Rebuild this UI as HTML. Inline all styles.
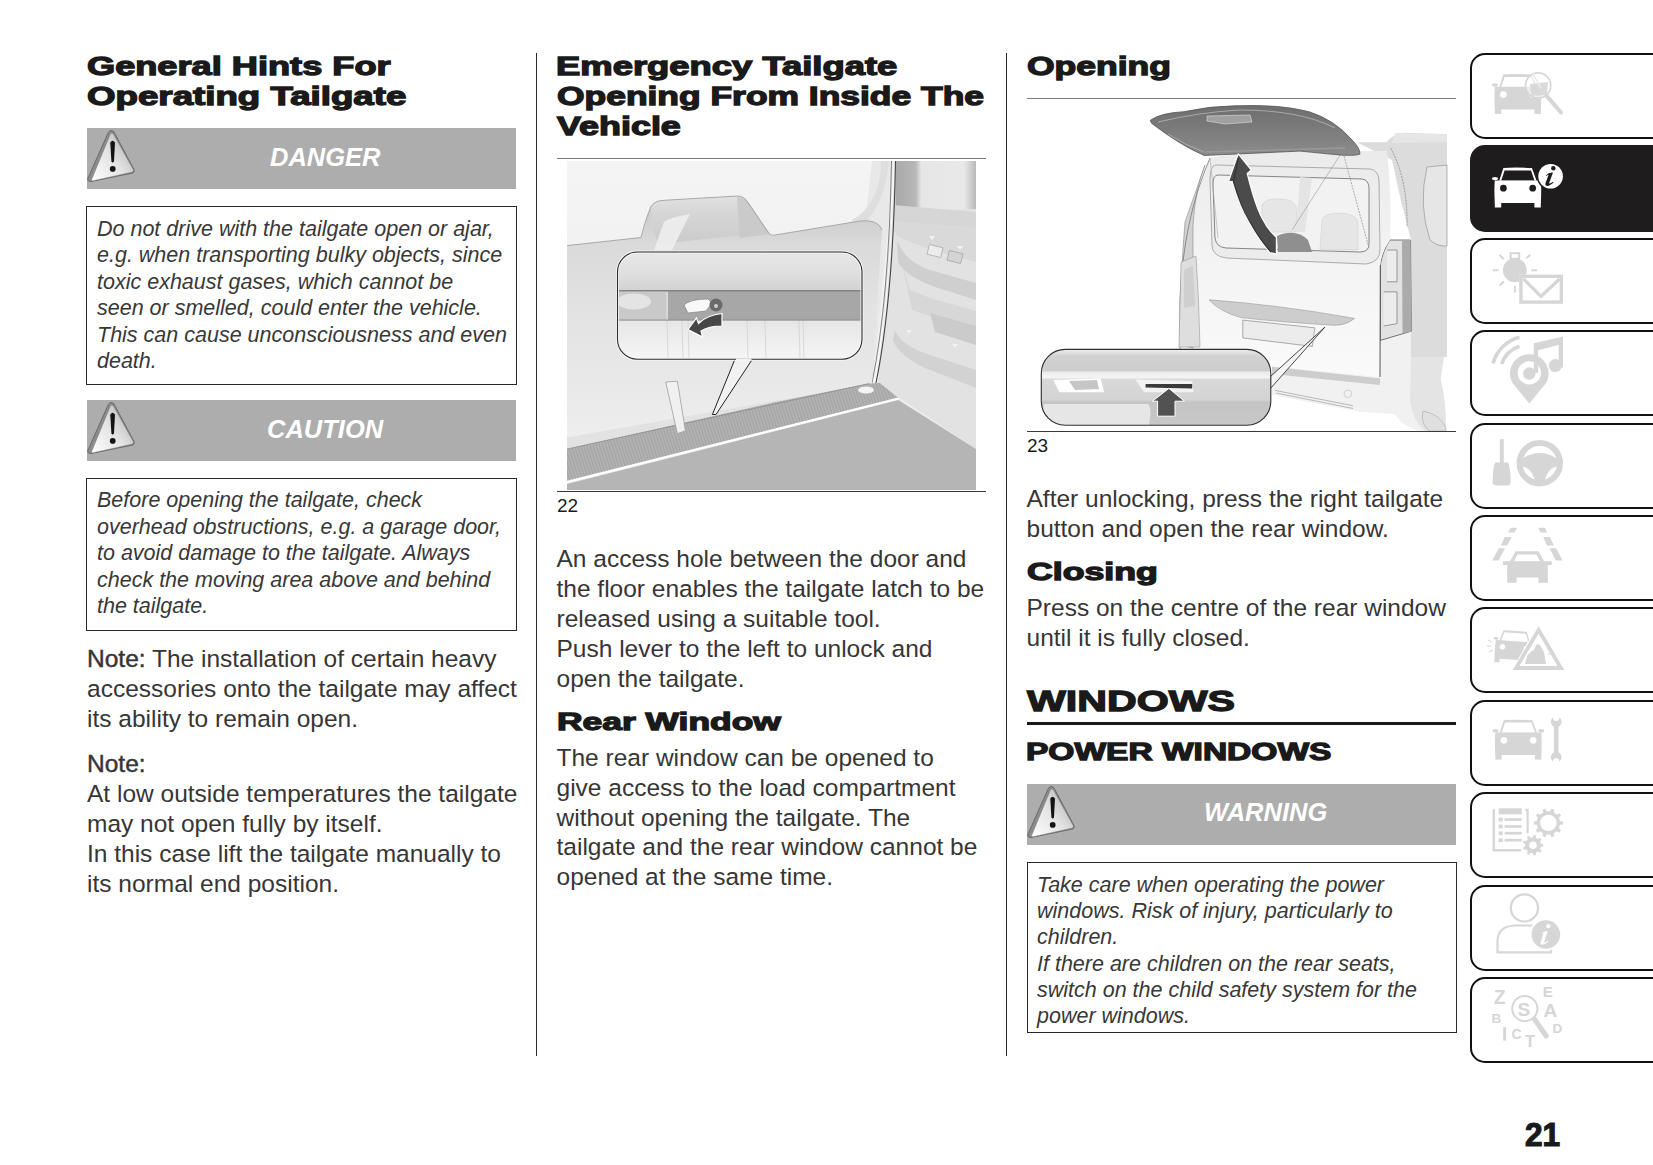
<!DOCTYPE html>
<html><head><meta charset="utf-8"><title>Tailgate</title>
<style>
html,body{margin:0;padding:0;background:#fff;}
body{width:1653px;height:1165px;position:relative;overflow:hidden;font-family:"Liberation Sans", sans-serif;}
.t{position:absolute;white-space:nowrap;}
.r{position:absolute;}
</style></head><body>
<div class="t" style="left:86.5px;top:52.99px;font-size:26px;line-height:26px;font-weight:700;font-style:normal;color:#1a1a1a;transform:scaleX(1.391705069124424);transform-origin:0 0;-webkit-text-stroke:1.3px #1a1a1a;">General Hints For</div>
<div class="t" style="left:86.5px;top:82.99px;font-size:26px;line-height:26px;font-weight:700;font-style:normal;color:#1a1a1a;transform:scaleX(1.4111111111111112);transform-origin:0 0;-webkit-text-stroke:1.3px #1a1a1a;">Operating Tailgate</div>
<div class="r" style="left:87px;top:128px;width:429px;height:61px;background:#adadad;"></div>
<svg class="r" style="left:87px;top:128px" width="60" height="61" viewBox="0 0 60 61">
<defs><linearGradient id="tg128" x1="0" y1="1" x2="1" y2="0.2"><stop offset="0" stop-color="#ffffff"/><stop offset="0.55" stop-color="#e2e2e2"/><stop offset="1" stop-color="#b4b4b4"/></linearGradient></defs>
<path d="M0.8 50.5 L21.5 4 Q24 0.8 26.8 3.6 L46.8 41.2 Q48.2 44.3 45 45.2 L5.5 53.2 Q0 54.3 0.8 50.5 Z" fill="#8c8c8c" stroke="#555" stroke-width="0.7"/>
<path d="M4.6 51.6 L23.2 6.4 Q24.8 3.8 26.6 6.2 L46.2 41.6 Q47 43.6 44.6 44.3 L7.2 52.6 Q4.2 53.3 4.6 51.6 Z" fill="url(#tg128)" stroke="#777" stroke-width="0.5"/>
<path d="M23.3 14.5 Q25.6 11.2 28 14.5 L27 33.6 Q25.7 35.6 24.4 33.6 Z" fill="#141414"/>
<ellipse cx="25.7" cy="40.9" rx="2.9" ry="2.8" fill="#141414"/>
</svg>
<div class="t" style="left:270px;top:145.41px;font-size:25.5px;line-height:25.5px;font-weight:700;font-style:italic;color:#ffffff;">DANGER</div>
<div class="r" style="left:86px;top:206px;width:431px;height:179px;border:1.6px solid #2a2a2a;box-sizing:border-box;"></div>
<div class="t" style="left:97px;top:218.60px;font-size:21.5px;line-height:21.5px;font-weight:400;font-style:italic;color:#383838;">Do not drive with the tailgate open or ajar,</div>
<div class="t" style="left:97px;top:245.10px;font-size:21.5px;line-height:21.5px;font-weight:400;font-style:italic;color:#383838;">e.g. when transporting bulky objects, since</div>
<div class="t" style="left:97px;top:271.60px;font-size:21.5px;line-height:21.5px;font-weight:400;font-style:italic;color:#383838;">toxic exhaust gases, which cannot be</div>
<div class="t" style="left:97px;top:298.10px;font-size:21.5px;line-height:21.5px;font-weight:400;font-style:italic;color:#383838;">seen or smelled, could enter the vehicle.</div>
<div class="t" style="left:97px;top:324.60px;font-size:21.5px;line-height:21.5px;font-weight:400;font-style:italic;color:#383838;">This can cause unconsciousness and even</div>
<div class="t" style="left:97px;top:351.10px;font-size:21.5px;line-height:21.5px;font-weight:400;font-style:italic;color:#383838;">death.</div>
<div class="r" style="left:87px;top:400px;width:429px;height:61px;background:#adadad;"></div>
<svg class="r" style="left:87px;top:400px" width="60" height="61" viewBox="0 0 60 61">
<defs><linearGradient id="tg400" x1="0" y1="1" x2="1" y2="0.2"><stop offset="0" stop-color="#ffffff"/><stop offset="0.55" stop-color="#e2e2e2"/><stop offset="1" stop-color="#b4b4b4"/></linearGradient></defs>
<path d="M0.8 50.5 L21.5 4 Q24 0.8 26.8 3.6 L46.8 41.2 Q48.2 44.3 45 45.2 L5.5 53.2 Q0 54.3 0.8 50.5 Z" fill="#8c8c8c" stroke="#555" stroke-width="0.7"/>
<path d="M4.6 51.6 L23.2 6.4 Q24.8 3.8 26.6 6.2 L46.2 41.6 Q47 43.6 44.6 44.3 L7.2 52.6 Q4.2 53.3 4.6 51.6 Z" fill="url(#tg400)" stroke="#777" stroke-width="0.5"/>
<path d="M23.3 14.5 Q25.6 11.2 28 14.5 L27 33.6 Q25.7 35.6 24.4 33.6 Z" fill="#141414"/>
<ellipse cx="25.7" cy="40.9" rx="2.9" ry="2.8" fill="#141414"/>
</svg>
<div class="t" style="left:267px;top:417.41px;font-size:25.5px;line-height:25.5px;font-weight:700;font-style:italic;color:#ffffff;">CAUTION</div>
<div class="r" style="left:86px;top:478px;width:431px;height:152.5px;border:1.6px solid #2a2a2a;box-sizing:border-box;"></div>
<div class="t" style="left:97px;top:490.00px;font-size:21.5px;line-height:21.5px;font-weight:400;font-style:italic;color:#383838;">Before opening the tailgate, check</div>
<div class="t" style="left:97px;top:516.60px;font-size:21.5px;line-height:21.5px;font-weight:400;font-style:italic;color:#383838;">overhead obstructions, e.g. a garage door,</div>
<div class="t" style="left:97px;top:543.20px;font-size:21.5px;line-height:21.5px;font-weight:400;font-style:italic;color:#383838;">to avoid damage to the tailgate. Always</div>
<div class="t" style="left:97px;top:569.80px;font-size:21.5px;line-height:21.5px;font-weight:400;font-style:italic;color:#383838;">check the moving area above and behind</div>
<div class="t" style="left:97px;top:596.40px;font-size:21.5px;line-height:21.5px;font-weight:400;font-style:italic;color:#383838;">the tailgate.</div>
<div class="t" style="left:87px;top:647.26px;font-size:24.5px;line-height:24.5px;font-weight:400;font-style:normal;color:#363636;"><span style="-webkit-text-stroke:0.45px #363636">Note:</span> The installation of certain heavy</div>
<div class="t" style="left:87px;top:677.26px;font-size:24.5px;line-height:24.5px;font-weight:400;font-style:normal;color:#363636;">accessories onto the tailgate may affect</div>
<div class="t" style="left:87px;top:707.26px;font-size:24.5px;line-height:24.5px;font-weight:400;font-style:normal;color:#363636;">its ability to remain open.</div>
<div class="t" style="left:87px;top:751.76px;font-size:24.5px;line-height:24.5px;font-weight:400;font-style:normal;color:#363636;"><span style="-webkit-text-stroke:0.45px #363636">Note:</span></div>
<div class="t" style="left:87px;top:781.86px;font-size:24.5px;line-height:24.5px;font-weight:400;font-style:normal;color:#363636;">At low outside temperatures the tailgate</div>
<div class="t" style="left:87px;top:811.96px;font-size:24.5px;line-height:24.5px;font-weight:400;font-style:normal;color:#363636;">may not open fully by itself.</div>
<div class="t" style="left:87px;top:842.06px;font-size:24.5px;line-height:24.5px;font-weight:400;font-style:normal;color:#363636;">In this case lift the tailgate manually to</div>
<div class="t" style="left:87px;top:872.16px;font-size:24.5px;line-height:24.5px;font-weight:400;font-style:normal;color:#363636;">its normal end position.</div>
<div class="r" style="left:535.5px;top:53px;width:1.6px;height:1003px;background:#2a2a2a;"></div>
<div class="r" style="left:1005.8px;top:53px;width:1.6px;height:1003px;background:#2a2a2a;"></div>
<div class="t" style="left:556px;top:52.99px;font-size:26px;line-height:26px;font-weight:700;font-style:normal;color:#1a1a1a;transform:scaleX(1.400414937759336);transform-origin:0 0;-webkit-text-stroke:1.3px #1a1a1a;">Emergency Tailgate</div>
<div class="t" style="left:556.5px;top:82.99px;font-size:26px;line-height:26px;font-weight:700;font-style:normal;color:#1a1a1a;transform:scaleX(1.3621794871794872);transform-origin:0 0;-webkit-text-stroke:1.3px #1a1a1a;">Opening From Inside The</div>
<div class="t" style="left:556.5px;top:112.99px;font-size:26px;line-height:26px;font-weight:700;font-style:normal;color:#1a1a1a;transform:scaleX(1.3820224719101124);transform-origin:0 0;-webkit-text-stroke:1.3px #1a1a1a;">Vehicle</div>
<div class="r" style="left:557px;top:157.5px;width:429px;height:1.5px;background:#7a7a7a;"></div>
<svg class="r" style="left:567px;top:161px" width="409" height="329" viewBox="567 161 409 329">
<defs>
<linearGradient id="g22bg" x1="0" y1="0" x2="0" y2="1"><stop offset="0" stop-color="#f4f4f4"/><stop offset="1" stop-color="#ececec"/></linearGradient>
<linearGradient id="g22panel" x1="0" y1="0" x2="0" y2="1"><stop offset="0" stop-color="#c6c6c6"/><stop offset="0.08" stop-color="#cdcdcd"/><stop offset="0.2" stop-color="#dadada"/><stop offset="0.45" stop-color="#e2e2e2"/><stop offset="0.75" stop-color="#e8e8e8"/><stop offset="1" stop-color="#eeeeee"/></linearGradient>
<linearGradient id="g22bump" x1="0" y1="0" x2="0" y2="1"><stop offset="0" stop-color="#e2e2e2"/><stop offset="0.35" stop-color="#d6d6d6"/><stop offset="1" stop-color="#cbcbcb"/></linearGradient>
<linearGradient id="g22door" x1="0" y1="0" x2="1" y2="0"><stop offset="0" stop-color="#a9a9a9"/><stop offset="0.25" stop-color="#b8b8b8"/><stop offset="0.32" stop-color="#e6e6e6"/><stop offset="0.85" stop-color="#e9e9e9"/><stop offset="1" stop-color="#b9b9b9"/></linearGradient>
<linearGradient id="g22cb" x1="0" y1="0" x2="0" y2="1"><stop offset="0" stop-color="#e8e8e8"/><stop offset="0.6" stop-color="#dedede"/><stop offset="1" stop-color="#d2d2d2"/></linearGradient>
<linearGradient id="g22cl" x1="0" y1="0" x2="0" y2="1"><stop offset="0" stop-color="#e6e6e6"/><stop offset="1" stop-color="#f6f6f6"/></linearGradient>
<pattern id="hatch22" width="3" height="3" patternUnits="userSpaceOnUse" patternTransform="rotate(-18)"><rect width="3" height="3" fill="#b2b2b2"/><rect width="0.9" height="3" fill="#a2a2a2"/></pattern>
<clipPath id="cc22"><rect x="617.5" y="252" width="244.5" height="107.3" rx="20" ry="20"/></clipPath>
</defs>
<rect x="567" y="161" width="409" height="329" fill="url(#g22bg)"/>
<!-- window frame curve (pillar) -->
<path d="M872 161 L895 161 L888 230 L878 330 L872 383 L850 383 L862 260 Q866 210 872 161 Z" fill="#e8e8e8"/>
<path d="M881 161 Q880 205 852 220 L852 232 Q884 215 889 161 Z" fill="#dedede"/>
<!-- right door interior -->
<path d="M895.5 161 L976 161 L976 449 L878 383.4 L885 290 Z" fill="#e2e2e2"/>
<rect x="895.5" y="161" width="80.5" height="48" fill="url(#g22door)"/>
<path d="M893 205 L976 212 L976 228 L893 222 Z" fill="#d6d6d6"/>
<path d="M893 222 L976 228 L976 262 Q930 250 905 240 Q896 236 893 230 Z" fill="#d9d9d9"/>
<path d="M897 240 Q905 262 930 270 L976 283 L976 300 L935 287 Q905 276 898 262 Z" fill="#cfcfcf"/>
<path d="M903 268 L910 290 L930 298 L976 311 L976 332 L912 310 Z" fill="#d7d7d7"/>
<path d="M895 330 Q900 345 930 355 L976 370 L976 388 L925 368 Q898 355 893 340 Z" fill="#d2d2d2"/>
<path d="M930 313 L976 326 L976 345 L935 332 Z" fill="#cbcbcb"/>
<rect x="928" y="246" width="14" height="10" fill="#ececec" stroke="#b0b0b0" stroke-width="0.8" transform="rotate(14 935 251)"/>
<rect x="948" y="252" width="14" height="10" fill="#d4d4d4" stroke="#aaa" stroke-width="0.8" transform="rotate(14 955 257)"/>
<path d="M929 236 l3 4 l3 -4 z M957 246 l3 4 l3 -4 z M906 330 l3 4 l3 -4 z M952 344 l3 4 l3 -4 z" fill="#f4f4f4"/>
<!-- pillar dark lines -->
<path d="M895.5 161 Q893 300 876 383" fill="none" stroke="#444" stroke-width="1.1"/>
<path d="M891.5 161 Q889 300 872 383" fill="none" stroke="#666" stroke-width="0.8"/><path d="M893.5 161 Q891 300 874 383" fill="none" stroke="#fff" stroke-width="0.8"/>
<!-- left panel -->
<path d="M567 245.6 L640.9 237.5 Q646 218 651.1 206.2 Q655 200.5 664.2 200.3 L737.2 196 Q744 196 747.4 201.8 L768 232 Q770 236 775 235 L860 221 Q878 219 882 230 L872 383.4 L567 437.4 Z" fill="url(#g22panel)"/>
<path d="M651.1 206.2 Q655 200.5 664.2 200.3 L737.2 196 Q744 196 747.4 201.8 L768 232 L660 244 Q650 232 651.1 206.2 Z" fill="url(#g22bump)"/>
<path d="M737 197 Q745 197 749 203 L770 234 L740 238 Q738 215 737 197 Z" fill="#c9c9c9" opacity="0.9"/><path d="M664 222 Q668 218 690 214 L672 250 L654 250 Z" fill="#f0f0f0" opacity="0.85"/>
<path d="M567 245.6 L640.9 237.5 Q646 218 651.1 206.2 Q655 200.5 664.2 200.3 L737.2 196 Q744 196 747.4 201.8 L768 232 Q770 236 775 235 L860 221 Q878 219 882 230" fill="none" stroke="#9a9a9a" stroke-width="0.8"/>
<!-- trim strip above sill -->
<path d="M567 437.4 L872 383.4 L897 383.4 L567 449 Z" fill="#e2e2e2"/>
<!-- sill -->
<path d="M567 449 L775 402.3 L869.2 383.4 L880 383 L898.4 398 L567 481.9 Z" fill="url(#hatch22)"/>
<path d="M567 481.9 L898.4 398.5" stroke="#ffffff" stroke-width="2.2"/>
<path d="M567 449 L869 383.6" stroke="#8a8a8a" stroke-width="0.7"/>
<!-- floor -->
<path d="M567 484 L898.4 400 L976 449 L976 490 L567 490 Z" fill="#b5b5b5"/>
<ellipse cx="866" cy="390" rx="8" ry="3.5" fill="#f4f4f4"/>
<!-- lever -->
<path d="M665.7 382 L677.4 381.2 L685.4 430.8 L677.4 433.7 Z" fill="#f0f0f0" stroke="#a0a0a0" stroke-width="0.8"/>
<!-- callout pointer -->
<path d="M735 359 L712.4 414.5 L716 414.5 L752.5 359 Z" fill="#f2f2f2" stroke="#222" stroke-width="1"/>
<!-- callout -->
<g clip-path="url(#cc22)">
<rect x="617.5" y="252" width="244.5" height="39" fill="url(#g22cb)"/>
<rect x="617.5" y="290.8" width="244.5" height="29.5" fill="#a7a7a7"/>
<rect x="617.5" y="290.8" width="50.5" height="29.5" fill="#c9c9c9"/>
<ellipse cx="634" cy="301.5" rx="17" ry="8" fill="#e4e4e4"/>
<rect x="666" y="292" width="2" height="28" fill="#d8d8d8"/>
<rect x="617.5" y="320" width="244.5" height="40" fill="url(#g22cl)"/>
<path d="M667 320 L668 360 M682 320 L683 360 M688 320 L689 360 M747 320 L748 360 M765 320 L766 360 M799 320 L800 360 M803 320 L804 360" stroke="#d2d2d2" stroke-width="0.8"/>
<rect x="617.5" y="290.3" width="244.5" height="1" fill="#666"/>
<rect x="617.5" y="319.6" width="244.5" height="1" fill="#8a8a8a"/>
<!-- latch -->
<path d="M684 305 Q690 299 708 299 L712 303 L706 311 L688 313 Z" fill="#f8f8f8" stroke="#777" stroke-width="0.6"/>
<circle cx="716" cy="305" r="6.5" fill="#6a6a6a"/>
<circle cx="716" cy="306" r="2" fill="#cfcfcf"/>
<!-- arrow -->
<path d="M722 313.5 L722 326 Q708 326 701 331 L702.5 337 L688 329.5 L696.5 318 L698.5 323.5 Q707 315 722 313.5 Z" fill="#474747" stroke="#ffffff" stroke-width="1.2"/>
</g>
<rect x="617.5" y="252" width="244.5" height="107.3" rx="20" ry="20" fill="none" stroke="#f6f6f6" stroke-width="3"/><rect x="617.5" y="252" width="244.5" height="107.3" rx="20" ry="20" fill="none" stroke="#2b2b2b" stroke-width="1.1"/>
<path d="M736 359.3 L751.5 359.3" stroke="#f2f2f2" stroke-width="1.6"/>
</svg>

<div class="r" style="left:557px;top:490.8px;width:429px;height:1.5px;background:#3a3a3a;"></div>
<div class="t" style="left:557px;top:495.52px;font-size:19px;line-height:19px;font-weight:400;font-style:normal;color:#1a1a1a;">22</div>
<div class="t" style="left:556.5px;top:547.36px;font-size:24.5px;line-height:24.5px;font-weight:400;font-style:normal;color:#363636;">An access hole between the door and</div>
<div class="t" style="left:556.5px;top:577.36px;font-size:24.5px;line-height:24.5px;font-weight:400;font-style:normal;color:#363636;">the floor enables the tailgate latch to be</div>
<div class="t" style="left:556.5px;top:607.36px;font-size:24.5px;line-height:24.5px;font-weight:400;font-style:normal;color:#363636;">released using a suitable tool.</div>
<div class="t" style="left:556.5px;top:637.36px;font-size:24.5px;line-height:24.5px;font-weight:400;font-style:normal;color:#363636;">Push lever to the left to unlock and</div>
<div class="t" style="left:556.5px;top:667.36px;font-size:24.5px;line-height:24.5px;font-weight:400;font-style:normal;color:#363636;">open the tailgate.</div>
<div class="t" style="left:556.5px;top:709.76px;font-size:24.5px;line-height:24.5px;font-weight:700;font-style:normal;color:#1a1a1a;transform:scaleX(1.4444444444444444);transform-origin:0 0;-webkit-text-stroke:1.3px #1a1a1a;">Rear Window</div>
<div class="t" style="left:556.5px;top:745.76px;font-size:24.5px;line-height:24.5px;font-weight:400;font-style:normal;color:#363636;">The rear window can be opened to</div>
<div class="t" style="left:556.5px;top:775.66px;font-size:24.5px;line-height:24.5px;font-weight:400;font-style:normal;color:#363636;">give access to the load compartment</div>
<div class="t" style="left:556.5px;top:805.56px;font-size:24.5px;line-height:24.5px;font-weight:400;font-style:normal;color:#363636;">without opening the tailgate. The</div>
<div class="t" style="left:556.5px;top:835.46px;font-size:24.5px;line-height:24.5px;font-weight:400;font-style:normal;color:#363636;">tailgate and the rear window cannot be</div>
<div class="t" style="left:556.5px;top:865.36px;font-size:24.5px;line-height:24.5px;font-weight:400;font-style:normal;color:#363636;">opened at the same time.</div>
<div class="t" style="left:1027px;top:52.99px;font-size:26px;line-height:26px;font-weight:700;font-style:normal;color:#1a1a1a;transform:scaleX(1.3650485436893203);transform-origin:0 0;-webkit-text-stroke:1.3px #1a1a1a;">Opening</div>
<div class="r" style="left:1027px;top:97.6px;width:429px;height:1.5px;background:#7a7a7a;"></div>
<svg class="r" style="left:1030px;top:99px" width="427" height="332" viewBox="1030 99 427 332">
<defs>
<linearGradient id="g23glass" x1="0" y1="0" x2="0" y2="1"><stop offset="0" stop-color="#6e6e6e"/><stop offset="0.5" stop-color="#7c7c7c"/><stop offset="1" stop-color="#8c8c8c"/></linearGradient>
<linearGradient id="g23body" x1="0" y1="0" x2="0" y2="1"><stop offset="0" stop-color="#ebebeb"/><stop offset="0.45" stop-color="#f3f3f3"/><stop offset="1" stop-color="#fafafa"/></linearGradient>
<linearGradient id="g23side" x1="0" y1="0" x2="1" y2="0"><stop offset="0" stop-color="#e2e2e2"/><stop offset="1" stop-color="#d4d4d4"/></linearGradient>
<linearGradient id="g23cb" x1="0" y1="0" x2="0" y2="1"><stop offset="0" stop-color="#efefef"/><stop offset="0.09" stop-color="#d2d2d2"/><stop offset="0.28" stop-color="#cdcdcd"/><stop offset="0.3" stop-color="#ebebeb"/><stop offset="0.37" stop-color="#f4f4f4"/><stop offset="0.4" stop-color="#d8d8d8"/><stop offset="0.66" stop-color="#d4d4d4"/><stop offset="0.7" stop-color="#c4c4c4"/><stop offset="1" stop-color="#c8c8c8"/></linearGradient>
<clipPath id="cc23"><rect x="1041.3" y="349.4" width="229.5" height="75.8" rx="24" ry="24"/></clipPath>
</defs>
<rect x="1030" y="99" width="427" height="332" fill="#ffffff"/>
<!-- right side body (pillar) -->
<path d="M1357 142.3 L1386.4 142.3 Q1394 133 1405 132.8 L1447 134.3 L1447 357 L1411 357 L1411 240 Q1400 200 1392 160 Z" fill="#dcdcdc"/>
<path d="M1395 133 L1447 134.3 L1447 142 L1392 143 Z" fill="#e6e6e6"/>
<path d="M1427 167 Q1418 205 1430 240 Q1438 247 1447 246 L1447 165 Z" fill="#e6e6e6" stroke="#888" stroke-width="0.6"/>
<path d="M1390.7 148.2 Q1408 180 1407 227" fill="none" stroke="#888" stroke-width="0.8" stroke-dasharray="2 1"/>
<!-- lower right corner -->
<path d="M1380 340 L1411 331 L1411 357 L1444 357 L1440.6 379 Q1446 400 1446 431 L1420 431 Q1400 425 1395 414 L1361 412 L1272 395 L1272 366 L1380 377 Z" fill="#f1f1f1"/>
<path d="M1411 357 L1444 357 L1440.6 379 Q1446 400 1446 431 L1425 431 Q1412 420 1410 400 Z" fill="#e4e4e4"/>
<path d="M1272 366.7 L1380 378.6 L1380 385 L1272 374 Z" fill="#cdcdcd"/>
<path d="M1275 390.4 L1353 405.7 M1276 393 L1353 408.5" stroke="#a8a8a8" stroke-width="0.8"/>
<circle cx="1347.8" cy="393.8" r="3.8" fill="none" stroke="#bbb" stroke-width="0.6"/>
<path d="M1423 411 Q1440 414 1446 428 L1446 431 L1430 431 Q1420 425 1423 411 Z" fill="#e0e0e0" stroke="#aaa" stroke-width="0.6"/>
<!-- tail light housing -->
<path d="M1390 240 L1410.5 240 L1411.3 331.2 L1380.3 340.4 L1380.3 265 Q1383 250 1390 240 Z" fill="#e2e2e2" stroke="#555" stroke-width="0.8"/>
<path d="M1402 240 L1410.5 240 L1411.3 331.2 L1402.5 333.5 Z" fill="#ababab"/>
<path d="M1387 250 L1397 250 L1397 281.8 L1387 281.8" fill="#ececec" stroke="#777" stroke-width="0.7"/>
<path d="M1383.7 291.9 L1397 291.9 L1397 323.7 L1383.7 326" fill="#ececec" stroke="#777" stroke-width="0.7"/>
<!-- tailgate body -->
<path d="M1210 158 Q1236 152 1300 151 L1387 151 Q1392 200 1390 240 Q1381 252 1380.3 265 L1380 377 L1272 366 L1193.7 352 L1180 356 L1180 300 Q1183 220 1210 158 Z" fill="url(#g23body)"/>
<path d="M1185 222 Q1180 280 1180 345 L1193 348 L1193 225 Q1195 190 1205 165 Z" fill="#d2d2d2" stroke="#888" stroke-width="0.6"/>
<path d="M1210 158 Q1183 220 1180 300 L1180 356" fill="none" stroke="#777" stroke-width="0.8"/>
<path d="M1380.3 265 L1380 377" stroke="#444" stroke-width="0.9"/>
<!-- rear window frame -->
<path d="M1216 165 L1370 169 Q1378 170 1379 180 L1380 250 Q1380 262 1366 264 L1226 258 Q1212 256 1212 245 L1210 180 Q1210 165 1216 165 Z" fill="#ececec" stroke="#9a9a9a" stroke-width="0.8"/>
<path d="M1218 175 L1362 179 Q1369 180 1369 188 L1369 244 Q1369 252 1360 252 L1226 248 Q1216 247 1215 238 L1213 184 Q1213 175 1218 175 Z" fill="#f2f2f2" stroke="#6a6a6a" stroke-width="0.8"/>
<!-- interior seats -->
<path d="M1262 205 Q1265 198 1282 199 Q1296 200 1297 210 L1296 232 L1262 232 Z" fill="#e6e6e6" stroke="#d2d2d2" stroke-width="0.6"/>
<path d="M1322 220 Q1324 213 1340 213 Q1356 214 1358 222 L1358 250 L1320 250 Z" fill="#e6e6e6" stroke="#d2d2d2" stroke-width="0.6"/>
<path d="M1300 177 L1312 178 L1305 232 L1296 232 Z" fill="#e4e4e4"/>
<path d="M1277 236 Q1296 228 1308 240 L1312 252 L1278 252 Z" fill="#8f8f8f"/>
<path d="M1292 230 L1342 152" stroke="#999" stroke-width="0.6"/>
<path d="M1344 156 L1369 248" stroke="#999" stroke-width="0.8" stroke-dasharray="2 1"/>
<path d="M1210 158 L1218 238" stroke="#aaa" stroke-width="0.6"/>
<!-- handle recess -->
<path d="M1209 299.8 Q1280 305 1354.6 318.4 Q1345 326 1332.6 325.2 Q1280 322 1241 317.6 Q1220 312 1209 299.8 Z" fill="#cdcdcd" stroke="#999" stroke-width="0.6"/>
<!-- license plate -->
<path d="M1242.8 320.1 L1314.8 327.8 L1312.3 346.4 L1242.8 337.9 Z" fill="#ececec" stroke="#8a8a8a" stroke-width="0.7"/>
<!-- glass (open window) -->
<path d="M1150.2 120.4 Q1160 113 1183.8 111.7 Q1210 106 1234.9 105.8 Q1280 104 1309 111.7 Q1335 120 1352 140 Q1360 148 1360 154 Q1356 156 1340 155 L1300 151.1 L1204.2 155.5 Q1180 145 1151.7 123.4 Z" fill="url(#g23glass)" stroke="#555" stroke-width="0.8"/>
<path d="M1158 122 Q1200 112 1240 110 Q1300 110 1335 128" fill="none" stroke="#b8b8b8" stroke-width="0.8"/>
<path d="M1168 134 Q1185 145 1204 152" fill="none" stroke="#aaa" stroke-width="1"/>
<path d="M1207 116 L1250 115 L1252 122 L1225 124 L1207 121 Z" fill="#a0a0a0" stroke="#ddd" stroke-width="0.6"/>
<path d="M1205 152 L1345 148" stroke="#9a9a9a" stroke-width="1.4"/>
<!-- arrow -->
<path d="M1238.2 153.9 L1251.4 170 L1247.2 173.4 Q1255 205 1262 218 Q1268 230 1276.4 237.4 L1276.4 254.1 L1270.2 252.7 Q1255 235 1248 219.3 Q1238 200 1232.6 181.7 L1228.4 181.7 Z" fill="#4b4b4b" stroke="#ffffff" stroke-width="1.2" stroke-linejoin="round"/>
<path d="M1238.5 158 L1233.5 181.5 Q1240 205 1250 222 Q1260 240 1271 252" fill="none" stroke="#333" stroke-width="1.2"/>
<!-- callout pointer -->
<path d="M1270 377 L1325 327 L1270 389 Z" fill="#f4f4f4" stroke="#333" stroke-width="0.9"/>
<!-- callout -->
<g clip-path="url(#cc23)">
<rect x="1041.3" y="349.4" width="232" height="75.8" fill="url(#g23cb)"/>
<path d="M1043.5 404 L1148.6 404 Q1152 410 1149 425.2 L1043.5 425.2 Z" fill="#e6e6e6"/>
<path d="M1053.3 380.1 L1100.6 378.6 L1104.3 392.2 L1059.3 392.2 Z" fill="#ffffff"/>
<path d="M1069 381 L1097 380 L1099 389 L1075 390 Z" fill="#c6c6c6"/>
<path d="M1135.1 379.4 L1192.2 380.9 L1193.7 392.2 L1144.1 392.2 Z" fill="#f2f2f2"/>
<path d="M1145.6 383.9 L1192.2 383.9 L1192.2 388.4 L1145.6 387.4 Z" fill="#3a3a3a"/>
<path d="M1168.9 388.4 L1184.5 401.2 L1175 401.2 L1175 416.2 L1157.6 416.2 L1157.6 401.2 L1152.4 401.2 Z" fill="#525252" stroke="#ffffff" stroke-width="1"/>
</g>
<rect x="1041.3" y="349.4" width="229.5" height="75.8" rx="24" ry="24" fill="none" stroke="#2e2e2e" stroke-width="1.1"/>
<!-- left body side strip above callout -->
<path d="M1181 262 L1196 256 Q1199 300 1200 347 L1179 347 Z" fill="#dedede" stroke="#888" stroke-width="0.5"/><path d="M1184 270 L1193 266 L1195 306 L1184 308 Z" fill="#cfcfcf"/>
</svg>

<div class="r" style="left:1027px;top:430.8px;width:429px;height:1.5px;background:#3a3a3a;"></div>
<div class="t" style="left:1027px;top:435.52px;font-size:19px;line-height:19px;font-weight:400;font-style:normal;color:#1a1a1a;">23</div>
<div class="t" style="left:1026.5px;top:487.06px;font-size:24.5px;line-height:24.5px;font-weight:400;font-style:normal;color:#363636;">After unlocking, press the right tailgate</div>
<div class="t" style="left:1026.5px;top:517.06px;font-size:24.5px;line-height:24.5px;font-weight:400;font-style:normal;color:#363636;">button and open the rear window.</div>
<div class="t" style="left:1026.8px;top:560.28px;font-size:24px;line-height:24px;font-weight:700;font-style:normal;color:#1a1a1a;transform:scaleX(1.4853801169590644);transform-origin:0 0;-webkit-text-stroke:1.3px #1a1a1a;">Closing</div>
<div class="t" style="left:1026.5px;top:596.06px;font-size:24.5px;line-height:24.5px;font-weight:400;font-style:normal;color:#363636;">Press on the centre of the rear window</div>
<div class="t" style="left:1026.5px;top:626.06px;font-size:24.5px;line-height:24.5px;font-weight:400;font-style:normal;color:#363636;">until it is fully closed.</div>
<div class="t" style="left:1027px;top:686.40px;font-size:30px;line-height:30px;font-weight:700;font-style:normal;color:#1a1a1a;transform:scaleX(1.3708609271523178);transform-origin:0 0;-webkit-text-stroke:1.3px #1a1a1a;">WINDOWS</div>
<div class="r" style="left:1027px;top:721.5px;width:429px;height:3px;background:#1a1a1a;"></div>
<div class="t" style="left:1025.8px;top:739.96px;font-size:24.5px;line-height:24.5px;font-weight:700;font-style:normal;color:#1a1a1a;transform:scaleX(1.3681818181818182);transform-origin:0 0;-webkit-text-stroke:1.3px #1a1a1a;">POWER WINDOWS</div>
<div class="r" style="left:1027px;top:783.7px;width:429px;height:61px;background:#adadad;"></div>
<svg class="r" style="left:1027px;top:783.7px" width="60" height="61" viewBox="0 0 60 61">
<defs><linearGradient id="tg783" x1="0" y1="1" x2="1" y2="0.2"><stop offset="0" stop-color="#ffffff"/><stop offset="0.55" stop-color="#e2e2e2"/><stop offset="1" stop-color="#b4b4b4"/></linearGradient></defs>
<path d="M0.8 50.5 L21.5 4 Q24 0.8 26.8 3.6 L46.8 41.2 Q48.2 44.3 45 45.2 L5.5 53.2 Q0 54.3 0.8 50.5 Z" fill="#8c8c8c" stroke="#555" stroke-width="0.7"/>
<path d="M4.6 51.6 L23.2 6.4 Q24.8 3.8 26.6 6.2 L46.2 41.6 Q47 43.6 44.6 44.3 L7.2 52.6 Q4.2 53.3 4.6 51.6 Z" fill="url(#tg783)" stroke="#777" stroke-width="0.5"/>
<path d="M23.3 14.5 Q25.6 11.2 28 14.5 L27 33.6 Q25.7 35.6 24.4 33.6 Z" fill="#141414"/>
<ellipse cx="25.7" cy="40.9" rx="2.9" ry="2.8" fill="#141414"/>
</svg>
<div class="t" style="left:1204px;top:800.41px;font-size:25.5px;line-height:25.5px;font-weight:700;font-style:italic;color:#ffffff;">WARNING</div>
<div class="r" style="left:1026.5px;top:861.5px;width:430px;height:171px;border:1.6px solid #2a2a2a;box-sizing:border-box;"></div>
<div class="t" style="left:1037px;top:874.70px;font-size:21.5px;line-height:21.5px;font-weight:400;font-style:italic;color:#383838;">Take care when operating the power</div>
<div class="t" style="left:1037px;top:901.05px;font-size:21.5px;line-height:21.5px;font-weight:400;font-style:italic;color:#383838;">windows. Risk of injury, particularly to</div>
<div class="t" style="left:1037px;top:927.40px;font-size:21.5px;line-height:21.5px;font-weight:400;font-style:italic;color:#383838;">children.</div>
<div class="t" style="left:1037px;top:953.75px;font-size:21.5px;line-height:21.5px;font-weight:400;font-style:italic;color:#383838;">If there are children on the rear seats,</div>
<div class="t" style="left:1037px;top:980.10px;font-size:21.5px;line-height:21.5px;font-weight:400;font-style:italic;color:#383838;">switch on the child safety system for the</div>
<div class="t" style="left:1037px;top:1006.45px;font-size:21.5px;line-height:21.5px;font-weight:400;font-style:italic;color:#383838;">power windows.</div>
<!--TABS-->
<div class="r" style="left:1469.5px;top:53.0px;width:220px;height:86.2px;border:2.7px solid #111;border-radius:15px;box-sizing:border-box;background:#fff;"></div>
<div class="r" style="left:1469.5px;top:145.4px;width:220px;height:86.2px;background:#1e1c1d;border-radius:15px;"></div>
<div class="r" style="left:1469.5px;top:237.8px;width:220px;height:86.2px;border:2.7px solid #111;border-radius:15px;box-sizing:border-box;background:#fff;"></div>
<div class="r" style="left:1469.5px;top:330.2px;width:220px;height:86.2px;border:2.7px solid #111;border-radius:15px;box-sizing:border-box;background:#fff;"></div>
<div class="r" style="left:1469.5px;top:422.6px;width:220px;height:86.2px;border:2.7px solid #111;border-radius:15px;box-sizing:border-box;background:#fff;"></div>
<div class="r" style="left:1469.5px;top:515.0px;width:220px;height:86.2px;border:2.7px solid #111;border-radius:15px;box-sizing:border-box;background:#fff;"></div>
<div class="r" style="left:1469.5px;top:607.3px;width:220px;height:86.2px;border:2.7px solid #111;border-radius:15px;box-sizing:border-box;background:#fff;"></div>
<div class="r" style="left:1469.5px;top:699.7px;width:220px;height:86.2px;border:2.7px solid #111;border-radius:15px;box-sizing:border-box;background:#fff;"></div>
<div class="r" style="left:1469.5px;top:792.1px;width:220px;height:86.2px;border:2.7px solid #111;border-radius:15px;box-sizing:border-box;background:#fff;"></div>
<div class="r" style="left:1469.5px;top:884.5px;width:220px;height:86.2px;border:2.7px solid #111;border-radius:15px;box-sizing:border-box;background:#fff;"></div>
<div class="r" style="left:1469.5px;top:976.9px;width:220px;height:86.2px;border:2.7px solid #111;border-radius:15px;box-sizing:border-box;background:#fff;"></div>
<svg class="r" style="left:1470px;top:40px" width="183" height="1030" viewBox="1470 40 183 1030">
<g transform="translate(1492 74.3) scale(1.0)">
<path d="M11.4 0 Q25.5 -0.7 39.9 0.2 L44.6 12.8 L7.2 12.8 Z" fill="#d6d6d6"/>
<path d="M12.6 2.6 L39 2.6 L42.6 12.8 L9.2 12.8 Z" fill="#ffffff"/>
<path d="M2.8 12.5 L48.8 12.5 Q49.6 22 48.8 35.1 L2.8 35.1 Q2 22 2.8 12.5 Z" fill="#d6d6d6"/>
<rect x="2.8" y="34" width="6.4" height="5.6" fill="#d6d6d6"/>
<rect x="42.4" y="34" width="6.4" height="5.6" fill="#d6d6d6"/>
<ellipse cx="3" cy="10.7" rx="3" ry="1.7" fill="#d6d6d6"/>
<ellipse cx="48.8" cy="10.7" rx="3" ry="1.7" fill="#d6d6d6"/>
<circle cx="11.4" cy="20.3" r="3.35" fill="#ffffff"/>
<circle cx="40.7" cy="20.3" r="3.35" fill="#ffffff"/>
</g>
<circle cx="1538.1" cy="85.5" r="12.6" fill="#ffffff" fill-opacity="0.55" stroke="#d6d6d6" stroke-width="1.6"/>
<path d="M1530 84 L1548 82 L1547 95 L1531 96 Z" fill="#d6d6d6" opacity="0.9"/>
<path d="M1533 74 L1541 88" stroke="#ffffff" stroke-width="1.6"/><path d="M1533 74 L1541 88" stroke="#d6d6d6" stroke-width="0.8"/>
<path d="M1547.2 96.5 L1561 112.5" stroke="#d6d6d6" stroke-width="4.2" stroke-linecap="round"/>
<g transform="translate(1492 167.9) scale(1.0)">
<path d="M11.4 0 Q25.5 -0.7 39.9 0.2 L44.6 12.8 L7.2 12.8 Z" fill="#ffffff"/>
<path d="M12.6 2.6 L39 2.6 L42.6 12.8 L9.2 12.8 Z" fill="#1e1c1d"/>
<path d="M2.8 12.5 L48.8 12.5 Q49.6 22 48.8 35.1 L2.8 35.1 Q2 22 2.8 12.5 Z" fill="#ffffff"/>
<rect x="2.8" y="34" width="6.4" height="5.6" fill="#ffffff"/>
<rect x="42.4" y="34" width="6.4" height="5.6" fill="#ffffff"/>
<ellipse cx="3" cy="10.7" rx="3" ry="1.7" fill="#ffffff"/>
<ellipse cx="48.8" cy="10.7" rx="3" ry="1.7" fill="#ffffff"/>
<circle cx="11.4" cy="20.3" r="3.35" fill="#1e1c1d"/>
<circle cx="40.7" cy="20.3" r="3.35" fill="#1e1c1d"/>
</g>
<circle cx="1550.6" cy="176.2" r="13.8" fill="#1e1c1d"/>
<circle cx="1550.6" cy="176.2" r="12.3" fill="#ffffff"/>
<circle cx="1553.3" cy="168.2" r="2.2" fill="#1e1c1d"/>
<path d="M1545.8 175.5 Q1548.8 172 1553 172.5 L1549.2 183 Q1549.2 184.6 1553.2 181.8 L1553.6 182.6 Q1548.2 187.4 1545.8 185.6 Q1545 184.6 1545.6 182.8 L1548.6 174.8 Q1547.2 175 1546.3 176 Z" fill="#1e1c1d"/>
<circle cx="1514.9" cy="270.3" r="12" fill="#d6d6d6"/>
<rect x="1510.6" y="253.2" width="8.6" height="5.6" fill="none" stroke="#d6d6d6" stroke-width="2"/>
<g stroke="#d6d6d6" stroke-width="2"><path d="M1492.6 270.3 L1498.6 270.3"/><path d="M1531.3 270.3 L1537.3 270.3"/><path d="M1499.5 254.9 L1503.8 259.2"/><path d="M1526.1 258.3 L1530.4 254.9"/><path d="M1499.5 285.8 L1503.8 281.5"/><path d="M1514.9 285.8 L1514.9 292.7"/></g>
<rect x="1519.2" y="274.6" width="43.8" height="29.2" fill="#ffffff"/>
<rect x="1520.9" y="276.3" width="40.4" height="25.8" fill="none" stroke="#d6d6d6" stroke-width="3.4"/>
<path d="M1523.5 278.9 L1541 296.5 L1559.6 278.9" fill="none" stroke="#d6d6d6" stroke-width="3.4"/>
<path d="M1529.3 403.4 L1512.5 383 A19.3 19.3 0 1 1 1546.1 383 Z" fill="#d6d6d6"/>
<circle cx="1529.3" cy="372.9" r="11.6" fill="#ffffff"/>
<circle cx="1529.3" cy="373.5" r="6.2" fill="#d6d6d6"/>
<path d="M1533.8 343.3 L1563 336.5 L1563 367.4 L1558.7 367.4 L1558.7 345 L1538.1 350.3 L1538.1 373 L1533.8 373 Z" fill="#d6d6d6"/>
<circle cx="1555.3" cy="365.6" r="6.5" fill="#d6d6d6"/>
<path d="M1493 363.5 A37 37 0 0 1 1519.5 337.2" fill="none" stroke="#d6d6d6" stroke-width="3.6"/>
<path d="M1501.6 364 A28.5 28.5 0 0 1 1519.5 346.2" fill="none" stroke="#d6d6d6" stroke-width="3.6"/>
<rect x="1499.8" y="439.2" width="4" height="24.5" fill="#d6d6d6"/>
<path d="M1495 462.4 L1508.3 462.4 Q1510.7 470 1510.7 482 Q1510.7 485.5 1507 485.5 L1496.3 485.5 Q1492.6 485.5 1492.6 482 Q1492.6 470 1495 462.4 Z" fill="#d6d6d6"/>
<circle cx="1539.8" cy="463.2" r="20.2" fill="none" stroke="#d6d6d6" stroke-width="6"/>
<path d="M1519 461 Q1539.8 445 1560.6 461 L1560.6 466 Q1547 466 1544 484 L1535.6 484 Q1532.6 466 1519 466 Z" fill="#d6d6d6"/>
<polygon points="1510.8,527.8 1517.2,527.8 1514.4,532.6 1508.1,532.6" fill="#d6d6d6"/>
<polygon points="1504.8,537.1 1511.7,537.1 1507.2,545.5 1500.9,545.5" fill="#d6d6d6"/>
<polygon points="1498.8,548.2 1505.1,548.2 1498.5,560.6 1492.2,560.6" fill="#d6d6d6"/>
<polygon points="1538.2,527.8 1544.8,527.8 1547.2,532.6 1540.6,532.6" fill="#d6d6d6"/>
<polygon points="1543.3,537.1 1549.9,537.1 1553.8,545.5 1546.9,545.5" fill="#d6d6d6"/>
<polygon points="1549.6,548.2 1556.2,548.2 1562.5,560.6 1555.9,560.6" fill="#d6d6d6"/>
<path d="M1515.6 551.2 L1538.5 551.2 L1544.2 561.5 L1540.3 561.5 L1536.5 554.5 L1517.6 554.5 L1513.8 561.5 L1510 561.5 Z" fill="#d6d6d6"/>
<rect x="1503" y="561.2" width="48.7" height="3.8" fill="#d6d6d6"/>
<rect x="1507.2" y="564.8" width="40.6" height="12.8" fill="#d6d6d6"/>
<rect x="1507.2" y="577" width="9.4" height="5.8" fill="#d6d6d6"/><rect x="1538.4" y="577" width="9.4" height="5.8" fill="#d6d6d6"/>
<g transform="rotate(4 1515 648)"><g transform="translate(1493 631) scale(0.82)">
<path d="M11.4 0 Q25.5 -0.7 39.9 0.2 L44.6 12.8 L7.2 12.8 Z" fill="#d6d6d6"/>
<path d="M12.6 2.6 L39 2.6 L42.6 12.8 L9.2 12.8 Z" fill="#ffffff"/>
<path d="M2.8 12.5 L48.8 12.5 Q49.6 22 48.8 35.1 L2.8 35.1 Q2 22 2.8 12.5 Z" fill="#d6d6d6"/>
<rect x="2.8" y="34" width="6.4" height="5.6" fill="#d6d6d6"/>
<rect x="42.4" y="34" width="6.4" height="5.6" fill="#d6d6d6"/>
<ellipse cx="3" cy="10.7" rx="3" ry="1.7" fill="#d6d6d6"/>
<ellipse cx="48.8" cy="10.7" rx="3" ry="1.7" fill="#d6d6d6"/>
<circle cx="11.4" cy="20.3" r="3.35" fill="#ffffff"/>
<circle cx="40.7" cy="20.3" r="3.35" fill="#ffffff"/>
</g></g>
<path d="M1488 640 L1492 642 M1487 646 L1491 646 M1489 652 L1493 650" stroke="#d6d6d6" stroke-width="1"/>
<path d="M1538.6 624 L1566 671 L1511 671 Z" fill="#ffffff"/>
<path d="M1538.6 630 L1561 668 L1516 668 Z" fill="none" stroke="#d6d6d6" stroke-width="3.8" stroke-linejoin="miter"/>
<path d="M1525 664 Q1527 652 1534 650 L1536 645 Q1540 643 1541 647 L1544 652 L1546 664 Z" fill="#d6d6d6"/>
<path d="M1547 649 L1551 647 M1548 654 L1552 654" stroke="#d6d6d6" stroke-width="1"/>
<g transform="translate(1492.5 720) scale(1.0)">
<path d="M11.4 0 Q25.5 -0.7 39.9 0.2 L44.6 12.8 L7.2 12.8 Z" fill="#d6d6d6"/>
<path d="M12.6 2.6 L39 2.6 L42.6 12.8 L9.2 12.8 Z" fill="#ffffff"/>
<path d="M2.8 12.5 L48.8 12.5 Q49.6 22 48.8 35.1 L2.8 35.1 Q2 22 2.8 12.5 Z" fill="#d6d6d6"/>
<rect x="2.8" y="34" width="6.4" height="5.6" fill="#d6d6d6"/>
<rect x="42.4" y="34" width="6.4" height="5.6" fill="#d6d6d6"/>
<ellipse cx="3" cy="10.7" rx="3" ry="1.7" fill="#d6d6d6"/>
<ellipse cx="48.8" cy="10.7" rx="3" ry="1.7" fill="#d6d6d6"/>
<circle cx="11.4" cy="20.3" r="3.35" fill="#ffffff"/>
<circle cx="40.7" cy="20.3" r="3.35" fill="#ffffff"/>
</g>
<path d="M1556.2 724 L1556.2 755" stroke="#d6d6d6" stroke-width="4.6"/>
<circle cx="1556.2" cy="721.8" r="5.4" fill="#d6d6d6"/><path d="M1553.3 715.5 L1553.3 719.5 Q1556.2 722.5 1559.1 719.5 L1559.1 715.5 Z" fill="#ffffff"/>
<circle cx="1556.2" cy="757.2" r="5.4" fill="#d6d6d6"/><path d="M1553.3 763.5 L1553.3 759.5 Q1556.2 756.5 1559.1 759.5 L1559.1 763.5 Z" fill="#ffffff"/>
<path d="M1493.8 809.2 L1493.8 850.3 L1521 850.3" fill="none" stroke="#d6d6d6" stroke-width="2.4"/>
<path d="M1525.2 809.8 L1527.6 809.8 L1527.6 833.2" fill="none" stroke="#d6d6d6" stroke-width="2.2"/>
<rect x="1498.6" y="808.3" width="23.2" height="6" fill="#d6d6d6"/>
<rect x="1498.6" y="817.7" width="4.2" height="3.8" fill="#d6d6d6"/><rect x="1504.6" y="818.2" width="17.2" height="2.7" fill="#d6d6d6"/>
<rect x="1498.6" y="824.6" width="4.2" height="3.8" fill="#d6d6d6"/><rect x="1504.6" y="825.1" width="17.2" height="2.7" fill="#d6d6d6"/>
<rect x="1498.6" y="831.4000000000001" width="4.2" height="3.8" fill="#d6d6d6"/><rect x="1504.6" y="831.9000000000001" width="17.2" height="2.7" fill="#d6d6d6"/>
<rect x="1498.6" y="838.3000000000001" width="4.2" height="3.8" fill="#d6d6d6"/><rect x="1504.6" y="838.8000000000001" width="17.2" height="2.7" fill="#d6d6d6"/>
<polygon points="1559.73,820.95 1562.92,821.41 1562.92,824.39 1559.73,824.85 1558.71,827.99 1561.02,830.23 1559.28,832.64 1556.43,831.14 1553.75,833.08 1554.30,836.25 1551.47,837.17 1550.05,834.28 1546.75,834.28 1545.33,837.17 1542.50,836.25 1543.05,833.08 1540.37,831.14 1537.52,832.64 1535.78,830.23 1538.09,827.99 1537.07,824.85 1533.88,824.39 1533.88,821.41 1537.07,820.95 1538.09,817.81 1535.78,815.57 1537.52,813.16 1540.37,814.66 1543.05,812.72 1542.50,809.55 1545.33,808.63 1546.75,811.52 1550.05,811.52 1551.47,808.63 1554.30,809.55 1553.75,812.72 1556.43,814.66 1559.28,813.16 1561.02,815.57 1558.71,817.81" fill="#d6d6d6"/><circle cx="1548.4" cy="822.9" r="11.5" fill="#d6d6d6"/><circle cx="1548.4" cy="822.9" r="8.2" fill="#ffffff"/>
<polygon points="1540.64,843.65 1543.23,843.97 1543.23,846.43 1540.64,846.75 1539.85,848.93 1541.63,850.83 1540.04,852.72 1537.86,851.30 1535.85,852.46 1535.99,855.06 1533.56,855.48 1532.80,853.00 1530.52,852.60 1528.95,854.67 1526.82,853.44 1527.84,851.05 1526.35,849.27 1523.81,849.86 1522.97,847.54 1525.29,846.36 1525.29,844.04 1522.97,842.86 1523.81,840.54 1526.35,841.13 1527.84,839.35 1526.82,836.96 1528.95,835.73 1530.52,837.80 1532.80,837.40 1533.56,834.92 1535.99,835.34 1535.85,837.94 1537.86,839.10 1540.04,837.68 1541.63,839.57 1539.85,841.47" fill="#d6d6d6"/><circle cx="1533" cy="845.2" r="7.8" fill="#d6d6d6"/><circle cx="1533" cy="845.2" r="3.8" fill="#ffffff"/>
<circle cx="1524.4" cy="907.9" r="13.6" fill="none" stroke="#d6d6d6" stroke-width="2.2"/>
<path d="M1497.5 952.4 L1497.5 941 Q1498 926 1515 925.5 L1536 925.5 Q1550 926 1551 940 L1551 952.4 Z" fill="none" stroke="#d6d6d6" stroke-width="2.2"/>
<circle cx="1545.9" cy="934.5" r="16.3" fill="#ffffff"/>
<circle cx="1545.9" cy="934.5" r="14.3" fill="#d6d6d6"/>
<circle cx="1548.3" cy="926.2" r="2.1" fill="#ffffff"/>
<path d="M1541.4 933.5 Q1544 930.5 1547.7 931 L1544.2 941.8 Q1544.2 943.4 1548 940.7 L1548.3 941.5 Q1543 946 1540.8 944.3 Q1540.2 943.4 1540.8 941.8 L1543.6 933.1 Q1542.4 933.3 1541.7 934 Z" fill="#ffffff"/>
<text x="1493.8" y="1004.4" font-family="Liberation Sans" font-weight="bold" font-size="19.5" fill="#d6d6d6">Z</text>
<text x="1542.8" y="997.4" font-family="Liberation Sans" font-weight="bold" font-size="15" fill="#d6d6d6">E</text>
<text x="1543.6" y="1016.6" font-family="Liberation Sans" font-weight="bold" font-size="19" fill="#d6d6d6">A</text>
<text x="1491.4" y="1023" font-family="Liberation Sans" font-weight="bold" font-size="13.5" fill="#d6d6d6">B</text>
<text x="1552.6" y="1033" font-family="Liberation Sans" font-weight="bold" font-size="13.5" fill="#d6d6d6">D</text>
<rect x="1503.2" y="1027.1" width="2.9" height="13.5" fill="#d6d6d6"/>
<text x="1511.5" y="1039.4" font-family="Liberation Sans" font-weight="bold" font-size="14" fill="#d6d6d6">C</text>
<text x="1525" y="1047" font-family="Liberation Sans" font-weight="bold" font-size="16.5" fill="#d6d6d6">T</text>
<circle cx="1524.8" cy="1008.5" r="12.6" fill="none" stroke="#d6d6d6" stroke-width="2"/>
<text x="1517.5" y="1015.5" font-family="Liberation Sans" font-weight="bold" font-size="19" fill="#d6d6d6">S</text>
<path d="M1534.7 1019.5 L1546.2 1036" stroke="#d6d6d6" stroke-width="5" stroke-linecap="round"/>
</svg>
<div class="t" style="left:1525.3px;top:1117.64px;font-size:33.5px;line-height:33.5px;font-weight:700;font-style:normal;color:#1a1a1a;transform:scaleX(0.9436619718309859);transform-origin:0 0;-webkit-text-stroke:1.2px #1a1a1a;">21</div>
</body></html>
